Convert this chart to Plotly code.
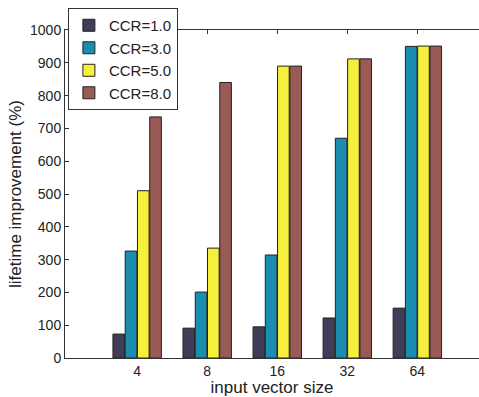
import plotly.graph_objects as go

categories = ["4", "8", "16", "32", "64"]
series_names = ["CCR=1.0", "CCR=3.0", "CCR=5.0", "CCR=8.0"]
ccr1 = [73, 91, 95, 122, 152]
ccr3 = [326, 201, 314, 670, 950]
ccr5 = [510, 335, 890, 912, 951]
ccr8 = [735, 840, 890, 912, 951]
colors = ["#413d58", "#1b8db0", "#f6ef3c", "#9a5a55"]

fig = go.Figure()
for name, vals, col in zip(series_names, [ccr1, ccr3, ccr5, ccr8], colors):
    fig.add_trace(go.Bar(x=categories, y=vals, name=name, marker_color=col,
                         marker_line=dict(color="#222222", width=1)))

fig.update_layout(
    width=479, height=397,
    margin=dict(l=65, r=0, t=30, b=39),
    paper_bgcolor="white", plot_bgcolor="white",
    barmode="group", bargap=0.3, bargroupgap=0.05,
    font=dict(family="Liberation Sans, Arial", color="#222222", size=14),
    showlegend=True,
    legend=dict(x=0.007, y=1.067, xanchor="left", yanchor="top",
                bgcolor="white", bordercolor="#333333", borderwidth=1,
                font=dict(size=15), tracegroupgap=0, itemwidth=30),
    xaxis=dict(type="category", range=[-1.03, 4.88], showline=True, linecolor="#333333",
               linewidth=1, mirror="ticks", ticks="inside", ticklen=4, tickcolor="#333333",
               title=dict(text="input vector size", font=dict(size=17), standoff=2),
               tickfont=dict(size=14)),
    yaxis=dict(range=[0, 1000], dtick=100, showline=True, linecolor="#333333", linewidth=1,
               ticks="inside", ticklen=4, tickcolor="#333333", showgrid=False, zeroline=False,
               title=dict(text="lifetime improvement (%)", font=dict(size=17), standoff=4),
               tickfont=dict(size=14)),
)
fig.write_html("out.html")
